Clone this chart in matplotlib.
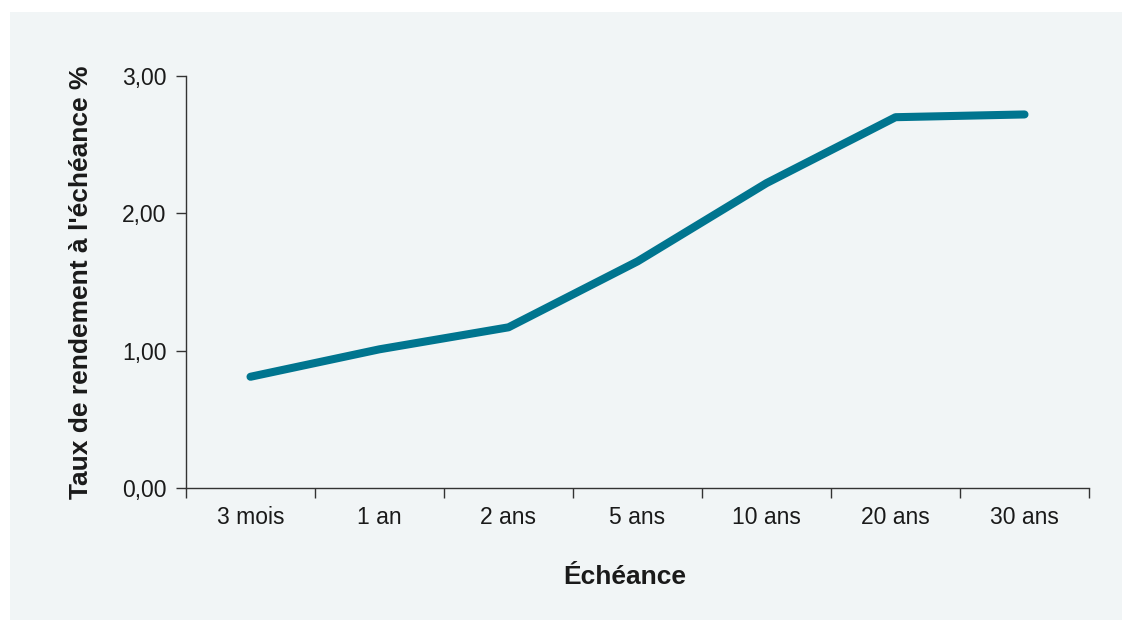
import matplotlib
matplotlib.use("Agg")
import matplotlib.pyplot as plt
from matplotlib.patches import Rectangle
from matplotlib.ticker import FixedLocator, FuncFormatter

# Courbe des taux par échéance
echeances = ["3 mois", "1 an", "2 ans", "5 ans", "10 ans", "20 ans", "30 ans"]
taux = [0.81, 1.01, 1.17, 1.65, 2.22, 2.70, 2.72]

plt.rcParams["font.family"] = ["Liberation Sans", "DejaVu Sans"]

fig = plt.figure(figsize=(11.22, 6.2), dpi=100, facecolor="white")
fig.patches.append(Rectangle((10 / 1122, 0), 1, 1 - 12 / 620, transform=fig.transFigure,
                             facecolor="#f1f5f6", edgecolor="none", zorder=-10))

ax = fig.add_axes([186 / 1122, 132 / 620, 903 / 1122, 412 / 620])
ax.set_facecolor("none")

x = list(range(len(echeances)))
ax.plot(x, taux, color="#00758f", linewidth=5.8, solid_capstyle="round",
        solid_joinstyle="round")

ax.set_xlim(-0.5, len(echeances) - 0.5)
ax.set_ylim(0, 3)
ax.set_xticks(x)
ax.set_xticklabels(echeances, fontsize=16.5)
ax.xaxis.set_minor_locator(FixedLocator([i - 0.5 for i in range(len(echeances) + 1)]))
ax.tick_params(axis="x", which="major", length=0, pad=13, colors="#1a1a1a")
ax.tick_params(axis="x", which="minor", length=7, width=1, color="#333333")
ax.set_yticks([0, 1, 2, 3])
ax.yaxis.set_major_formatter(FuncFormatter(lambda v, p: f"{v:.2f}".replace(".", ",")))
ax.tick_params(axis="y", length=7, width=1, color="#333333", labelcolor="#1a1a1a",
               labelsize=16.5, pad=7)

for s in ["top", "right"]:
    ax.spines[s].set_visible(False)
for s in ["left", "bottom"]:
    ax.spines[s].set_color("#333333")
    ax.spines[s].set_linewidth(1)

ax.set_xlabel("Échéance", fontsize=19, fontweight="bold", color="#1a1a1a")
ax.xaxis.set_label_coords(0.486, -0.186)
ax.set_ylabel("Taux de rendement à l'échéance %", fontsize=19, fontweight="bold",
              labelpad=21, color="#1a1a1a")

fig.savefig("out.png", dpi=100, facecolor=fig.get_facecolor())
